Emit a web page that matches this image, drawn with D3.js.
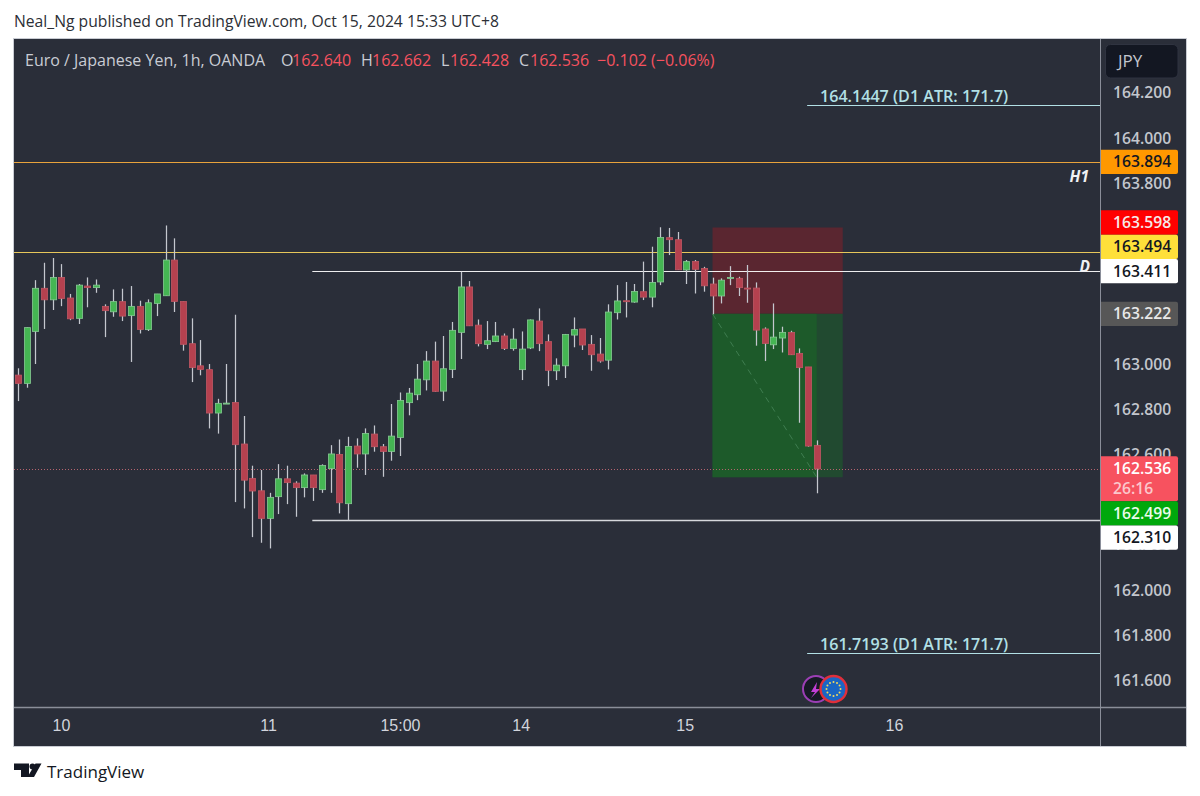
<!DOCTYPE html>
<html><head><meta charset="utf-8">
<script src="https://cdn.jsdelivr.net/npm/d3@7/dist/d3.min.js"></script>
<style>html,body{margin:0;padding:0;background:#fff}svg{display:block}</style></head>
<body><svg id="c" width="1200" height="796"></svg>
<script>
const opens=[162.951,162.914,163.144,163.335,163.284,163.383,163.292,163.202,163.345,163.338,163.255,163.231,163.276,163.214,163.255,163.152,163.268,163.302,163.460,163.277,163.090,162.992,162.975,162.783,162.823,162.830,162.646,162.494,162.439,162.317,162.413,162.492,162.473,162.453,162.509,162.444,162.537,162.600,162.382,162.637,162.602,162.690,162.634,162.613,162.675,162.829,162.864,162.930,163.013,162.880,162.976,163.140,163.341,163.172,163.087,163.099,163.124,163.068,162.975,163.071,163.190,163.099,162.970,162.992,163.128,163.155,163.087,163.044,163.017,163.227,163.280,163.274,163.320,163.296,163.363,163.559,163.550,163.416,163.454,163.423,163.354,163.301,163.379,163.379,163.336,163.336,163.155,163.085,163.115,163.140,163.047,162.987,162.640];
const highs=[162.981,163.162,163.371,163.448,163.469,163.442,163.310,163.354,163.383,163.374,163.264,163.330,163.333,163.345,163.280,163.286,163.310,163.613,163.556,163.277,163.202,163.106,163.000,162.846,163.000,163.218,162.770,162.550,162.531,162.430,162.557,162.550,162.481,162.516,162.509,162.556,162.641,162.666,162.678,162.671,162.715,162.728,162.646,162.823,162.874,162.894,163.000,163.057,163.099,163.124,163.186,163.408,163.367,163.197,163.190,163.186,163.135,163.158,163.144,163.197,163.246,163.131,163.025,163.133,163.206,163.155,163.128,163.115,163.264,163.349,163.363,163.354,163.453,163.519,163.605,163.602,163.584,163.460,163.460,163.430,163.382,163.379,163.433,163.386,163.438,163.361,163.162,163.268,163.165,163.147,163.069,162.987,162.662];
const lows=[162.836,162.895,163.000,163.155,163.239,163.256,163.194,163.177,163.251,163.315,163.119,163.209,163.190,163.009,163.135,163.146,163.212,163.302,163.230,163.059,162.920,162.950,162.715,162.692,162.823,162.389,162.361,162.234,162.209,162.184,162.336,162.380,162.324,162.410,162.394,162.430,162.430,162.339,162.309,162.541,162.509,162.612,162.501,162.572,162.593,162.773,162.840,162.883,162.877,162.836,162.938,163.022,163.168,163.078,163.066,163.097,163.062,163.059,162.929,163.066,163.057,162.902,162.929,162.938,163.074,163.062,162.970,163.006,162.976,163.197,163.206,163.271,163.283,163.251,163.349,163.482,163.416,163.354,163.312,163.320,163.220,163.268,163.349,163.301,163.271,163.081,163.013,163.066,163.051,163.040,162.740,162.634,162.428];
const closes=[162.914,163.161,163.335,163.284,163.383,163.290,163.200,163.349,163.338,163.349,163.236,163.276,163.212,163.255,163.153,163.271,163.310,163.460,163.277,163.087,162.984,162.976,162.783,162.826,162.827,162.643,162.486,162.438,162.317,162.410,162.492,162.475,162.453,162.509,162.453,162.551,162.602,162.386,162.635,162.602,162.693,162.634,162.613,162.681,162.839,162.871,162.933,163.013,162.879,162.979,163.149,163.341,163.169,163.090,163.103,163.124,163.069,163.110,163.066,163.195,163.090,162.972,162.995,163.131,163.152,163.084,163.041,163.013,163.230,163.279,163.276,163.321,163.296,163.361,163.560,163.550,163.417,163.453,163.419,163.346,163.301,163.371,163.383,163.338,163.332,163.150,163.091,163.119,163.140,163.041,162.984,162.637,162.536];
const priceTicks=[161.6,161.8,162.0,162.2,162.6,162.8,163.0,163.8,164.0,164.2];
const timeTickPos=[4.95,28.8,44,57.9,76.8,100.9];
const timeTickLabels=["10","11","15:00","14","15","16"];
const orangeLevel=163.894, yellowLevel=163.494, resistance=163.411, support=162.310;
const atrUpper=164.1447, atrLower=161.7193, atrText="(D1 ATR: 171.7)";
const lastPrice=162.536, stopBoxTop=163.604, entry=163.222, target=162.499;
const resistanceStartBar=33.9, atrStartBar=90.9, boxStartBar=80, boxNowBar=92, boxEndBar=95;
const axisLabels=[163.894,163.598,163.494,163.411,163.222,162.536,162.499,162.310];

const W=1200,H=796,L=14,R=1100,T=39,B=707,AR=1186,FB=746;
const svg=d3.select("#c");
const F="'Open Sans',sans-serif";
const x=d3.scaleLinear().domain([0,92]).range([18,816.7]);
const y=d3.scaleLinear().domain([163,162]).range([364,590]);

svg.append("rect").attr("x",L-.5).attr("y",T-.5).attr("width",AR-L+1).attr("height",FB-T+1).attr("fill","#2a2e39").attr("stroke","#c9ccd3");

// position box
svg.append("rect").attr("x",x(boxStartBar)).attr("y",y(stopBoxTop)).attr("width",x(boxEndBar)-x(boxStartBar)).attr("height",y(entry)-y(stopBoxTop)).attr("fill","#5a2630");
svg.append("rect").attr("x",x(boxStartBar)).attr("y",y(entry)).attr("width",x(boxEndBar)-x(boxStartBar)).attr("height",y(target)-y(entry)).attr("fill","#214a30");
svg.append("rect").attr("x",x(boxStartBar)).attr("y",y(entry)).attr("width",x(boxNowBar)-x(boxStartBar)).attr("height",y(target)-y(entry)).attr("fill","#1d5a2a");
svg.append("line").attr("x1",x(boxStartBar)).attr("y1",y(entry)).attr("x2",x(boxNowBar)).attr("y2",y(target)).attr("stroke","#3f7d50").attr("stroke-width",1).attr("stroke-dasharray","6 5");

// levels
const hline=(p,x1,c,w,o)=>svg.append("line").attr("x1",x1).attr("x2",R).attr("y1",Math.round(y(p))+.5).attr("y2",Math.round(y(p))+.5).attr("stroke",c).attr("stroke-width",w).attr("opacity",o||1);
hline(orangeLevel,L,"#e8a33c",1);
hline(yellowLevel,L,"#e6c65a",1.2);
hline(resistance,x(resistanceStartBar),"#ffffff",1.2,.92);
hline(support,x(resistanceStartBar),"#d6d8dc",1.4);
hline(atrUpper,x(atrStartBar),"#b2e0e6",1);
hline(atrLower,x(atrStartBar),"#b2e0e6",1);
svg.append("line").attr("x1",L).attr("x2",R).attr("y1",Math.round(y(lastPrice))+.5).attr("y2",Math.round(y(lastPrice))+.5).attr("stroke","#b5646e").attr("stroke-dasharray","1 2");

// candles
const idx=d3.range(opens.length);
const g=svg.append("g");
g.selectAll("line").data(idx).join("line")
 .attr("x1",i=>Math.round(x(i))+.5).attr("x2",i=>Math.round(x(i))+.5)
 .attr("y1",i=>y(highs[i])).attr("y2",i=>y(lows[i]))
 .attr("stroke","#c4c7ce").attr("stroke-width",1.25);
g.selectAll("rect").data(idx).join("rect")
 .attr("x",i=>Math.round(x(i))-2.6).attr("width",6.2)
 .attr("y",i=>y(Math.max(opens[i],closes[i])))
 .attr("height",i=>Math.max(1,Math.abs(y(opens[i])-y(closes[i]))))
 .attr("fill",i=>closes[i]>=opens[i]?"#45b653":"#b5414f")
 .attr("stroke",i=>closes[i]>=opens[i]?"#86c893":"#bd5763").attr("stroke-width",.8);

// annotations
const atrLabel=(p)=>svg.append("text").attr("x",820).attr("y",y(p)-3.5).attr("fill","#b2e0e6").attr("font-family",F).attr("font-size",16.1).attr("font-weight",600).text(d3.format(".4f")(p)+" "+atrText);
atrLabel(atrUpper);atrLabel(atrLower);
svg.append("text").attr("x",1089).attr("y",181.5).attr("text-anchor","end").attr("fill","#f0f1f3").attr("font-family",F).attr("font-style","italic").attr("font-weight",700).attr("font-size",15.5).text("H1");
svg.append("text").attr("x",1090).attr("y",271.5).attr("text-anchor","end").attr("fill","#f0f1f3").attr("font-family",F).attr("font-style","italic").attr("font-weight",700).attr("font-size",15.5).text("D");

// event icons
svg.append("circle").attr("cx",816).attr("cy",689).attr("r",13).attr("fill","#171a25").attr("stroke","#9c3fb5").attr("stroke-width",2);
svg.append("path").attr("d","M817 682L811 692H815L811 698L820 689H816Z").attr("fill","#c23fd6");
svg.append("circle").attr("cx",833.5).attr("cy",689).attr("r",13).attr("fill","#1a66c4").attr("stroke","#e02f3a").attr("stroke-width",2.4);
svg.selectAll("circle.star").data(d3.range(12)).join("circle").attr("class","star")
 .attr("cx",d=>833.5+7*Math.cos(d*Math.PI/6)).attr("cy",d=>689+7*Math.sin(d*Math.PI/6)).attr("r",1).attr("fill","#f3d95c");

// axes
svg.append("line").attr("x1",R+.5).attr("x2",R+.5).attr("y1",T).attr("y2",FB).attr("stroke","#8a8e99");
svg.append("line").attr("x1",L).attr("x2",AR).attr("y1",B+.5).attr("y2",B+.5).attr("stroke","#8a8e99").attr("stroke-width",1.5);
const ya=svg.append("g").attr("transform",`translate(${R},0)`).call(d3.axisRight(y).tickValues(priceTicks).tickFormat(d3.format(".3f")).tickSize(0).tickPadding(13));
ya.select(".domain").remove();
ya.selectAll("text").attr("fill","#c3c6cd").attr("font-family",F).attr("font-size",15.7).attr("font-weight",600);
const xa=svg.append("g").attr("transform",`translate(0,${B})`).call(d3.axisBottom(x).tickValues(timeTickPos).tickFormat((d,i)=>timeTickLabels[i]).tickSize(0).tickPadding(13));
xa.select(".domain").remove();
xa.selectAll("text").attr("fill","#d1d4dc").attr("font-family","'Liberation Sans',sans-serif").attr("font-size",16).attr("font-weight",500);

// price labels
const labelStyle={163.894:["#ff9800","#131722"],163.598:["#ff0000","#f5e9e9"],163.494:["#ffe03a","#131722"],163.411:["#ffffff","#131722"],163.222:["#575757","#e8e8e8"],162.536:["#f7525f","#fff"],162.499:["#00a80c","#e9fbe9"],162.310:["#ffffff","#131722"]};
const lh=24.3;
const tops={};let up=1e9,down=-1e9;
[163.411,163.494,163.598].forEach(p=>{up=Math.min(y(p)-lh/2,up-lh);tops[p]=up;});
[163.894,163.222].forEach(p=>tops[p]=y(p)-lh/2);
tops[lastPrice]=y(lastPrice)-lh/2-.5;down=tops[lastPrice]+45;
[162.499,162.310].forEach(p=>{down=Math.max(y(p)-lh/2,down);tops[p]=down;down+=lh;});
axisLabels.forEach(p=>{
 const h=p===lastPrice?45:lh, s=labelStyle[p];
 svg.append("path").attr("d",`M${R+1} ${tops[p]}H1176a2 2 0 0 1 2 2V${tops[p]+h-2}a2 2 0 0 1 -2 2H${R+1}Z`).attr("fill",s[0]);
});
axisLabels.forEach(p=>{
 const s=labelStyle[p];
 svg.append("text").attr("x",1113).attr("y",tops[p]+lh/2+5.5).attr("fill",s[1]).attr("font-family",F).attr("font-size",15.7).attr("font-weight",600).text(d3.format(".3f")(p));
});
svg.append("text").attr("x",1113).attr("y",tops[lastPrice]+38).attr("fill","#fbc7cb").attr("font-family",F).attr("font-size",15.7).attr("font-weight",600).text("26:16");

// JPY
svg.append("rect").attr("x",1105.5).attr("y",44.5).attr("width",72.5).attr("height",33.5).attr("rx",5).attr("fill","#131722").attr("stroke","#2f3340");
svg.append("text").attr("x",1118).attr("y",67).attr("fill","#c3c6cd").attr("font-family",F).attr("font-size",17).attr("font-weight",500).text("JPY");

// header
svg.append("text").attr("x",14).attr("y",26.5).attr("fill","#2c2f36").attr("font-family",F).attr("font-size",15.7).text("Neal_Ng published on TradingView.com, Oct 15, 2024 15:33 UTC+8");
const hd=(px,t,c)=>svg.append("text").attr("x",px).attr("y",65.5).attr("fill",c).attr("font-family",F).attr("font-size",16).attr("font-weight",500).text(t);
const GR="#c9ccd4",RD="#f7525f";
hd(25,"Euro / Japanese Yen, 1h, OANDA",GR);
[["O",281,292,opens],["H",361,372,highs],["L",441,450,lows],["C",519,530,closes]].forEach(([k,a,b,arr])=>{hd(a,k,GR);hd(b,d3.format(".3f")(arr[arr.length-1]),RD);});
hd(597,"−0.102 (−0.06%)",RD);

// footer logo
svg.append("path").attr("d","M14 763.5H29V777H21V770H14ZM35.5 763.5H41.5L34 777H27.5Z").attr("fill","#131722");
svg.append("circle").attr("cx",32.5).attr("cy",766.5).attr("r",3).attr("fill","#131722");
svg.append("text").attr("x",47).attr("y",778).attr("fill","#131722").attr("font-family",F).attr("font-size",17).text("TradingView");
</script></body></html>
